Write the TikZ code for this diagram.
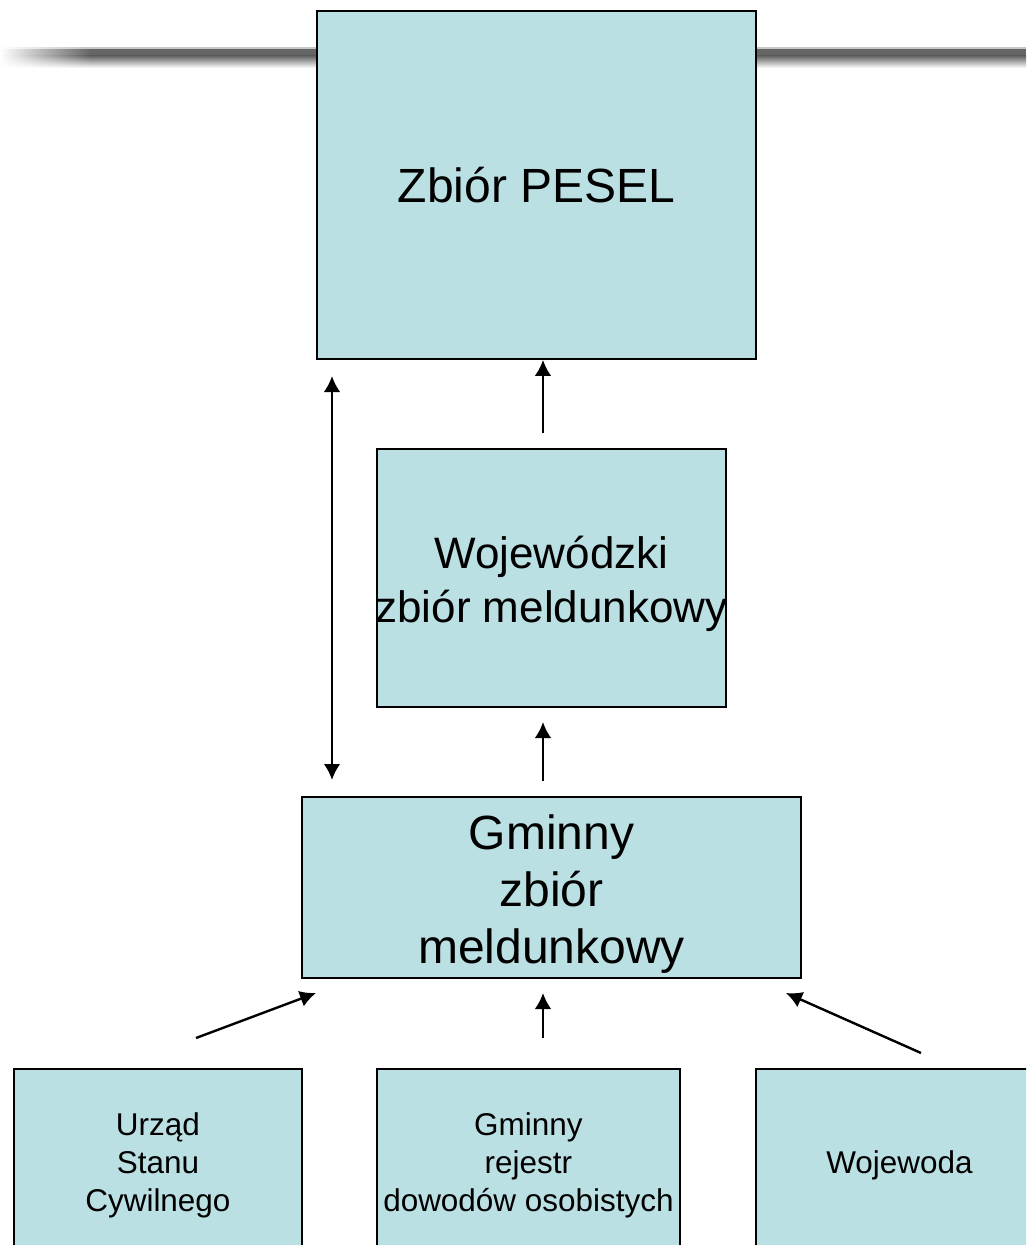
\documentclass[tikz,border=0pt]{standalone}
\usepackage{fontspec}
\setmainfont{Liberation Sans}
\usetikzlibrary{arrows.meta,fadings}
\definecolor{boxfill}{HTML}{BBE0E3}
\definecolor{bargray}{HTML}{666666}
\begin{document}
\begin{tikzpicture}[x=0.75pt,y=-0.75pt,
  box/.style={draw=black,line width=1.4pt,fill=boxfill,inner sep=0pt,anchor=north west},
  txt/.style={align=center,inner sep=0pt},
  bigtxt/.style={txt,font=\fontsize{36}{42.75}\selectfont},
  midtxt/.style={txt,font=\fontsize{33}{40.5}\selectfont},
  smalltxt/.style={txt,font=\fontsize{23.6}{28.5}\selectfont},
  tip/.style={},
  arr/.style={line width=1.8pt,-{Latex[length=12pt,width=12.5pt]}},
  dblarr/.style={line width=1.8pt,{Latex[length=12pt,width=12.5pt]}-{Latex[length=12pt,width=12.5pt]}}]
\useasboundingbox (0,0) rectangle (1026,1245);
\clip (0,0) rectangle (1026,1245);
% header bar
\fill[gray!45] (0,47.5) rectangle (1026,49.5);
\fill[bargray] (0,49.5) rectangle (1026,56);
\shade[top color=bargray,bottom color=white] (0,56) rectangle (1026,68);
\fill[white,path fading=east] (0,40) rectangle (90,75);
% boxes
\node[box,minimum width=329.25pt,minimum height=261pt] (pesel) at (316,10) {};
\node[box,minimum width=261.75pt,minimum height=193.5pt] (woj) at (376,448) {};
\node[box,minimum width=374.25pt,minimum height=135.75pt] (gm) at (301,796) {};
\node[box,minimum width=216pt,minimum height=139.5pt] (usc) at (13,1068) {};
\node[box,minimum width=227.25pt,minimum height=139.5pt] (rej) at (376,1068) {};
\node[box,minimum width=215.25pt,minimum height=139.5pt] (wda) at (755,1068) {};
% texts
\node[bigtxt] (peselt) at (pesel.center) {Zbiór PESEL};
\node[midtxt,yshift=-4.5pt] (wojt) at (woj.center) {Wojewódzki\\zbiór meldunkowy};
\node[bigtxt,yshift=-5.25pt] (gmt) at (gm.center) {Gminny\\zbiór\\meldunkowy};
\node[smalltxt,yshift=-2.25pt] (usct) at (usc.center) {Urząd\\Stanu\\Cywilnego};
\node[smalltxt,yshift=-2.25pt] (rejt) at (rej.center) {Gminny\\rejestr\\dowodów osobistych};
\node[smalltxt,yshift=-2.25pt] (wdat) at (wda.center) {Wojewoda};
% arrow ends
\coordinate (d1) at (332,376);
\coordinate (d2) at (332,780);
\coordinate (a1) at (543,433);
\coordinate (b1) at (543,781);
\coordinate (b2) at (543,722);
\coordinate (l1) at (196,1038);
\coordinate (l2) at (316,993);
\coordinate (m1) at (543,1038);
\coordinate (m2) at (543,993);
\coordinate (r1) at (921,1053);
\coordinate (r2) at (786,993);
% connectors
\draw[dblarr] (d1) -- (d2);
\draw[arr] (a1) -- (a1 |- pesel.south);
\draw[arr] (b1) -- (b2);
\draw[arr] (l1) -- (l2);
\draw[arr] (m1) -- (m2);
\draw[arr] (r1) -- (r2);
\end{tikzpicture}
\end{document}
